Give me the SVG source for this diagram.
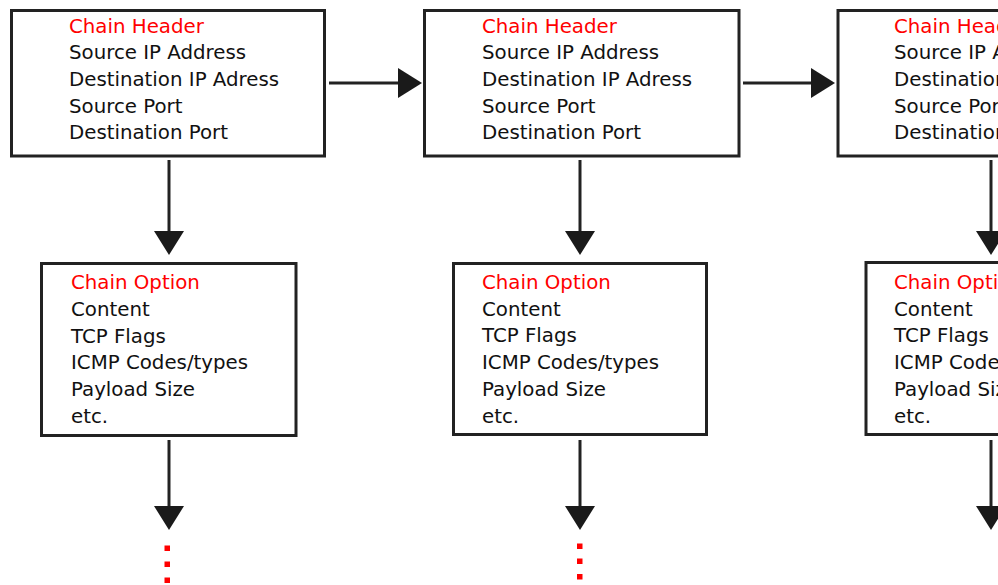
<svg xmlns="http://www.w3.org/2000/svg" width="998" height="585" viewBox="0 0 998 585">
  <style>
    .box { fill: #ffffff; stroke: #222222; stroke-width: 3; }
    .txt { font-family: "DejaVu Sans", Verdana, sans-serif; font-size: 19.8px; fill: #111111; }
    .title { fill: #ff0000; }
    .link { fill: none; stroke: #222222; stroke-width: 3; marker-end: url(#head); }
    .dot { fill: #ff0000; }
  </style>
  <defs>
    <marker id="head" viewBox="0 0 24 30" refX="2" refY="15" markerWidth="24" markerHeight="30" markerUnits="userSpaceOnUse" orient="auto">
      <path d="M0,0 L24,15 L0,30 Z" fill="#1a1a1a"/>
    </marker>
  </defs>
  <rect width="998" height="585" fill="#ffffff"/>

  <!-- Chain headers -->
  <g id="header-1">
    <rect class="box" x="11.5" y="10.5" width="313" height="145.5"/>
    <text class="txt" x="69">
      <tspan class="title" x="69" y="32.5">Chain Header</tspan>
      <tspan x="69" y="59.2">Source IP Address</tspan>
      <tspan x="69" y="86">Destination IP Adress</tspan>
      <tspan x="69" y="112.7">Source Port</tspan>
      <tspan x="69" y="139.4">Destination Port</tspan>
    </text>
  </g>
  <g id="header-2">
    <rect class="box" x="424.5" y="10.5" width="314.5" height="145.5"/>
    <text class="txt" x="482">
      <tspan class="title" x="482" y="32.5">Chain Header</tspan>
      <tspan x="482" y="59.2">Source IP Address</tspan>
      <tspan x="482" y="86">Destination IP Adress</tspan>
      <tspan x="482" y="112.7">Source Port</tspan>
      <tspan x="482" y="139.4">Destination Port</tspan>
    </text>
  </g>
  <g id="header-3">
    <rect class="box" x="838" y="10.5" width="220" height="145.5"/>
    <text class="txt" x="894">
      <tspan class="title" x="894" y="32.5">Chain Header</tspan>
      <tspan x="894" y="59.2">Source IP Address</tspan>
      <tspan x="894" y="86">Destination IP Adress</tspan>
      <tspan x="894" y="112.7">Source Port</tspan>
      <tspan x="894" y="139.4">Destination Port</tspan>
    </text>
  </g>

  <!-- Chain options -->
  <g id="option-1">
    <rect class="box" x="41.5" y="263.5" width="254.5" height="172"/>
    <text class="txt" x="71">
      <tspan class="title" x="71" y="289">Chain Option</tspan>
      <tspan x="71" y="316">Content</tspan>
      <tspan x="71" y="342.5">TCP Flags</tspan>
      <tspan x="71" y="369.3">ICMP Codes/types</tspan>
      <tspan x="71" y="396">Payload Size</tspan>
      <tspan x="71" y="422.8">etc.</tspan>
    </text>
  </g>
  <g id="option-2">
    <rect class="box" x="453.5" y="263.5" width="253" height="171"/>
    <text class="txt" x="482">
      <tspan class="title" x="482" y="288.5">Chain Option</tspan>
      <tspan x="482" y="315.5">Content</tspan>
      <tspan x="482" y="342">TCP Flags</tspan>
      <tspan x="482" y="369">ICMP Codes/types</tspan>
      <tspan x="482" y="395.7">Payload Size</tspan>
      <tspan x="482" y="422.5">etc.</tspan>
    </text>
  </g>
  <g id="option-3">
    <rect class="box" x="866" y="262.5" width="200" height="172"/>
    <text class="txt" x="894">
      <tspan class="title" x="894" y="288.5">Chain Option</tspan>
      <tspan x="894" y="315.5">Content</tspan>
      <tspan x="894" y="342">TCP Flags</tspan>
      <tspan x="894" y="369">ICMP Codes/types</tspan>
      <tspan x="894" y="395.7">Payload Size</tspan>
      <tspan x="894" y="422.5">etc.</tspan>
    </text>
  </g>

  <!-- Connectors -->
  <g id="connectors">
    <path class="link" d="M329,83 H400"/>
    <path class="link" d="M743,83 H813"/>
    <path class="link" d="M169,160 V233"/>
    <path class="link" d="M580,160 V233"/>
    <path class="link" d="M991,160 V233"/>
    <path class="link" d="M169,440 V508"/>
    <path class="link" d="M580,440 V508"/>
    <path class="link" d="M991,440 V508"/>
  </g>

  <!-- Continuation dots -->
  <g id="continuation">
    <rect class="dot" x="164.5" y="545.5" width="5.5" height="5.5"/>
    <rect class="dot" x="164.5" y="561.5" width="5.5" height="5.5"/>
    <rect class="dot" x="164.5" y="577.5" width="5.5" height="5.5"/>
    <rect class="dot" x="577" y="543.5" width="5.5" height="5.5"/>
    <rect class="dot" x="577" y="558.5" width="5.5" height="5.5"/>
    <rect class="dot" x="577" y="574" width="5.5" height="5.5"/>
  </g>
</svg>
